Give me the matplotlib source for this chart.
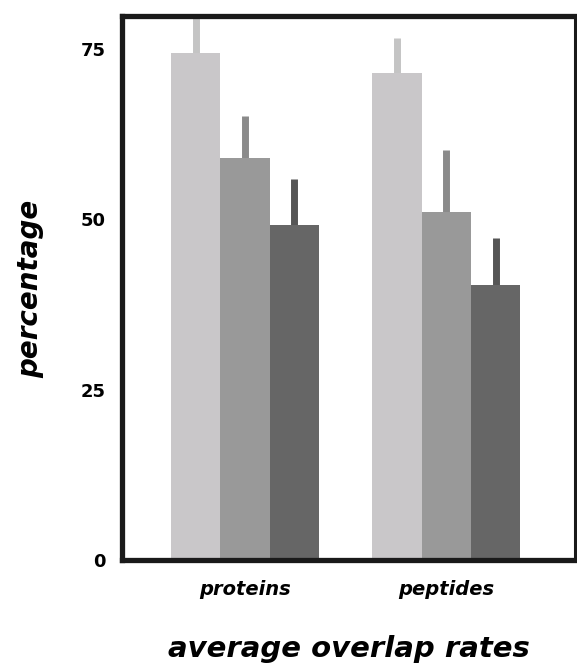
import numpy as np
import matplotlib
matplotlib.use("Agg")
import matplotlib.pyplot as plt

# data
groups = ['proteins', 'peptides']
means_1 = [74.4, 71.4]
means_2 = [58.9, 51.1]
means_3 = [49.2, 40.3]
err_1 = [6.0, 5.1]
err_2 = [6.2, 9.0]
err_3 = [6.7, 7.0]
yticks = [0, 25, 50, 75]

bar_colors = ['#c9c7c9', '#999999', '#666666']
err_colors = ['#c4c4c4', '#8a8a8a', '#555555']

fig = plt.figure(figsize=(5.77, 6.67), dpi=100)
ax = fig.add_axes([0.2123, 0.1597, 0.7842, 0.8156])

ind = np.arange(len(groups))
width = 0.245
series = [(means_1, err_1), (means_2, err_2), (means_3, err_3)]
for k, (m, e) in enumerate(series):
    x = ind + (k - 1) * width
    ax.bar(x, m, width, color=bar_colors[k], zorder=2)
    ax.errorbar(x, m, yerr=[np.zeros(len(e)), e], fmt='none',
                ecolor=err_colors[k], elinewidth=5, capsize=0, zorder=1)

ax.set_xlim(-0.608, 1.638)
ax.set_ylim(0, 79.7)
ax.set_xticks(ind)
ax.set_xticklabels(groups, fontsize=14, fontweight='heavy', style='italic')
ax.set_yticks(yticks)
ax.set_yticklabels([str(t) for t in yticks], fontsize=13, fontweight='heavy')
ax.tick_params(axis='x', length=0, pad=14)
ax.tick_params(axis='y', length=0, pad=12)

for s in ax.spines.values():
    s.set_linewidth(3.8)
    s.set_color('#1a1a1a')
ax.spines['right'].set_linewidth(2.2)

ax.set_ylabel('percentage', fontsize=20, fontweight='heavy', style='italic', labelpad=26)
ax.set_xlabel('average overlap rates', fontsize=21, fontweight='heavy', style='italic', labelpad=26)

fig.savefig('out.png', dpi=100)
